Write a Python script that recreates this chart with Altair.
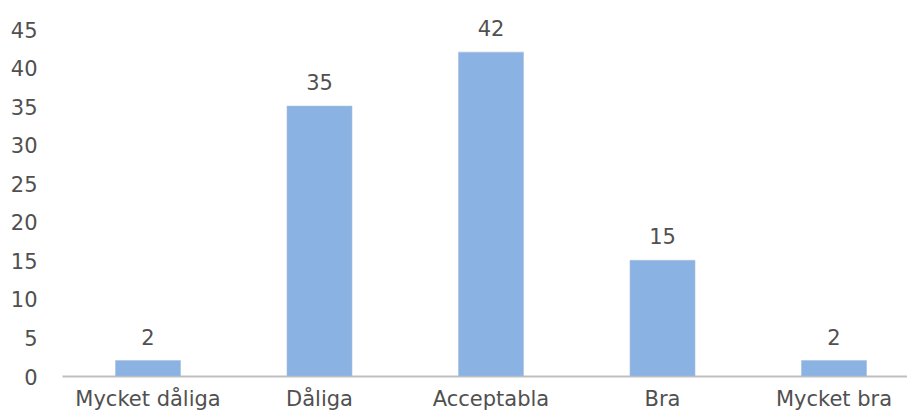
import altair as alt
import pandas as pd

categories = ["Mycket dåliga", "Dåliga", "Acceptabla", "Bra", "Mycket bra"]
values = [2, 35, 42, 15, 2]
y_ticks = [0, 5, 10, 15, 20, 25, 30, 35, 40, 45]

df = pd.DataFrame({"cat": categories, "val": values})

FONT = "DejaVu Sans"
TXT = "#505050"
FS = 21

base = alt.Chart(df).encode(
    x=alt.X(
        "cat:N",
        sort=categories,
        title=None,
        scale=alt.Scale(range=[0, 858], paddingInner=0.621, paddingOuter=0.312),
        axis=alt.Axis(
            labelAngle=0, labelFont=FONT, labelFontSize=FS, labelColor=TXT,
            labelPadding=12, ticks=False, domainColor="#BFBFBF", domainWidth=2,
            grid=False, labelOverlap=False,
        ),
    ),
    y=alt.Y(
        "val:Q",
        title=None,
        scale=alt.Scale(domain=[0, 45], nice=False),
        axis=alt.Axis(
            values=y_ticks, labelFont=FONT, labelFontSize=FS, labelColor=TXT,
            labelPadding=25, labelOffset=2, ticks=False, domain=False, grid=False,
            labelOverlap=False,
        ),
    ),
)

bars = base.mark_bar(color="#8AB3E3", stroke="#A9BFDA", strokeWidth=0.6)
labels = base.mark_text(
    baseline="bottom", dy=-12, font=FONT, fontSize=FS, color=TXT
).encode(text="val:Q")

chart = (
    (bars + labels)
    .properties(
        width=845, height=347,
        background="white",
        autosize=alt.AutoSizeParams(type="none"),
        padding={"left": 62, "top": 29, "right": 0, "bottom": 43},
    )
    .configure_view(strokeWidth=0)
)

chart.save("out.html", embed_options={"renderer": "svg", "actions": False})
